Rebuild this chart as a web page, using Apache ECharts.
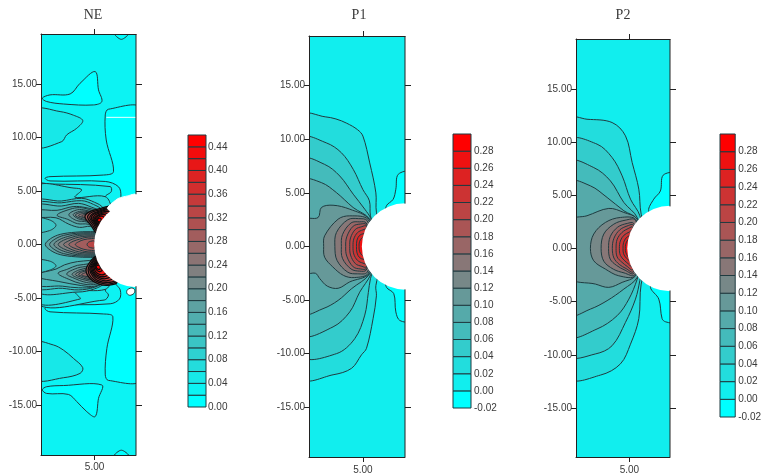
<!DOCTYPE html>
<html><head><meta charset="utf-8">
<style>html,body{margin:0;padding:0;background:#fff}#c{width:764px;height:475px}</style>
<script src="https://cdn.jsdelivr.net/npm/echarts@6/dist/echarts.min.js"></script></head>
<body><div id="c"></div>
<script>
// ---- tick labels ----
const yTicks=[-15,-10,-5,0,5,10,15];
const yTicksRight=[-15,-10,-5,5,10,15];
const xTicks=[5];
const neLegendTicks=[0,0.04,0.08,0.12,0.16,0.2,0.24,0.28,0.32,0.36,0.4,0.44];
const pLegendTicks=[-0.02,0,0.02,0.04,0.06,0.08,0.1,0.12,0.14,0.16,0.18,0.2,0.22,0.24,0.26,0.28];
const titles=['NE','P1','P2'];
// ---- hole: x centre, y centre, radius ----
const neHole=[8.96,0,4], p1Hole=[8.9,0,4], p2Hole=[8.8,0,4];
// ---- NE contour regions (band index, x/y outline) ----
const neBands=[0,0,0,0,0,2,2,2,3,4,5,6,5,5,7,8,9,10,11,12,13,7,8,9,10,11,12,13,8,9,10,11,12,13,14,16,14,15,16,17,18,19,20,21,22,14,15,16,17,18,19,20,21,22];
const neContours=[
[[6.77,19.9],[7.5,19.2],[8.27,19.9]],
[[6.77,-19.9],[7.5,-19.25],[8.27,-19.9]],
[[0.12,13.69],[0.84,14],[2.72,14.09],[3.65,15.09],[5.06,16.18],[5.37,14.47],[5.68,13.38],[4.9,13.06],[2.09,13.15],[0.53,13.38]],
[[0.12,-13.6],[0.53,-13.31],[2.09,-13.2],[5.68,-13.15],[5.37,-14.4],[5.06,-16.1],[4.28,-15.65],[3.34,-14.7],[2.56,-14.03],[0.53,-13.94]],
[[9.4,12.66],[6.3,12.66],[6,12.13],[6.09,9.78],[6.77,6.82],[5.84,6.5],[0.84,6.35],[0.37,6.2],[0.84,5.95],[6,5.9],[7.24,5.4],[7.46,4.5],[7.2,3.9],[8,2],[9.4,2]],
[[-0.5,12.6],[1.78,12.44],[3.03,12.1],[3.9,11.6],[3.34,10.88],[2.4,10.26],[1.94,9.63],[-0.5,9.16]],
[[-0.5,-9.2],[1.15,-9.4],[2.09,-9.88],[3.03,-10.66],[3.9,-11.53],[3.65,-12.06],[2.09,-12.47],[-0.5,-12.6]],
[[-0.5,5.57],[0.84,5.66],[6.46,5.42],[6.56,4.95],[6,4.45],[6.6,3.4],[7,0],[6.6,-3.4],[6,-4.26],[6.3,-4.73],[5.9,-5.2],[-0.5,-5.3]],
[[-0.5,5.26],[3.34,5.26],[3.8,5.1],[3.18,4.42],[5.99,4.48],[6.6,3.3],[7,0],[6.6,-3.3],[6,-4.2],[3.18,-4.4],[3.65,-5.1],[-0.5,-5.2]],
[[-0.5,3.95],[1.9,4.07],[3.8,4.32],[5,3.95],[5.8,3.4],[7,0],[6,-3.5],[5,-4.15],[3.46,-4.45],[-0.5,-4.2]],
[[-0.5,3.7],[1.9,3.9],[3.8,4.1],[4.9,3.75],[5.7,3.2],[7,0],[5.9,-3.4],[5,-4],[3.5,-4.25],[2,-4.1],[-0.5,-3.9]],
[[-0.5,3.5],[1.9,3.6],[3.5,3.85],[4.7,3.5],[5.6,3],[7,0],[5.8,-3.3],[5,-3.95],[3.5,-4.05],[2,-3.9],[-0.5,-3.55]],
[[-0.5,2.45],[0.8,2.3],[1.4,1.8],[0.8,1.3],[-0.5,1.2]],
[[-0.5,-1.5],[0.8,-1.55],[1.4,-2],[0.8,-2.4],[-0.5,-2.6]],
[[-0.5,3.2],[1.5,3.2],[3,3.55],[4.2,3.45],[5.6,3],[6.5,2],[5.4,1.4],[4.6,1.7],[3.6,1.6],[2.6,1.9],[1.4,2.5],[-0.5,2.6]],
[[1.5,2.75],[2.7,3.3],[3.6,3.45],[4.4,3.3],[5.5,2.85],[6.5,2],[5.3,1.5],[4.4,1.9],[3.4,1.95],[2.5,2.35]],
[[2.6,2.8],[3.4,3.25],[4.2,3.2],[5.4,2.8],[6.5,2],[5.25,1.6],[4.3,2.1],[3.3,2.25]],
[[3,2.8],[3.6,3.1],[4.2,3.1],[5.3,2.75],[6.5,2],[5.2,1.7],[4.3,2.2],[3.5,2.4]],
[[3.2,2.75],[3.7,3],[4.2,3],[5.2,2.7],[6,2],[5.2,1.8],[4.4,2.25],[3.7,2.45]],
[[3.5,2.7],[4,2.9],[5.1,2.6],[6,2],[5.1,1.85],[4.4,2.35]],
[[3.8,2.65],[4.3,2.85],[5,2.6],[6,2],[5.1,1.9],[4.5,2.4]],
[[-0.5,-3.05],[1.6,-3.45],[3.8,-3.85],[5,-3.9],[6,-3.4],[5.8,-1.3],[4.5,-1.5],[3.4,-1.6],[2.2,-1.9],[1.4,-2.3],[-0.5,-2.8]],
[[1.6,-2.7],[2.7,-3.3],[3.7,-3.65],[4.9,-3.75],[6,-3.3],[5.6,-1.4],[4.5,-1.8],[3.4,-1.95],[2.5,-2.3]],
[[2.4,-2.75],[3.2,-3.2],[4,-3.5],[4.9,-3.6],[6,-3.2],[5.5,-1.5],[4.4,-2],[3.4,-2.2]],
[[2.9,-2.8],[3.5,-3.15],[4.2,-3.35],[4.9,-3.45],[6,-3],[5.4,-1.6],[4.4,-2.15],[3.5,-2.4]],
[[3.2,-2.8],[3.7,-3.05],[4.3,-3.25],[5,-3.3],[6,-3],[5.3,-1.7],[4.4,-2.3],[3.7,-2.5]],
[[3.5,-2.8],[3.95,-3],[4.4,-3.15],[5.5,-3],[5.2,-1.8],[4.4,-2.4],[3.9,-2.55]],
[[3.8,-2.8],[4.3,-3],[5.5,-2.9],[5.2,-1.9],[4.5,-2.5]],
[[0.4,0],[0.9,0.55],[1.8,0.95],[3.2,1.15],[4.6,1.2],[5.5,1.1],[6,0],[5.5,-1.1],[4.6,-1.2],[3.2,-1.15],[1.8,-0.95],[0.9,-0.55]],
[[0.8,0],[1.3,0.5],[2.1,0.85],[3.3,1.05],[4.6,1.1],[5.5,1],[6,0],[5.5,-1],[4.6,-1.1],[3.3,-1.05],[2.1,-0.85],[1.3,-0.5]],
[[1.2,0],[1.7,0.45],[2.5,0.75],[3.4,0.95],[4.6,1],[5.5,0.9],[6,0],[5.5,-0.9],[4.6,-1],[3.4,-0.95],[2.5,-0.75],[1.7,-0.45]],
[[1.6,0],[2.1,0.4],[2.8,0.65],[3.6,0.85],[4.6,0.9],[5.5,0.8],[6,0],[5.5,-0.8],[4.6,-0.9],[3.6,-0.85],[2.8,-0.65],[2.1,-0.4]],
[[2.1,0],[2.6,0.35],[3.2,0.6],[3.9,0.75],[4.7,0.8],[5.5,0.7],[6,0],[5.5,-0.7],[4.7,-0.8],[3.9,-0.75],[3.2,-0.6],[2.6,-0.35]],
[[2.6,0],[3,0.3],[3.6,0.5],[4.1,0.65],[4.7,0.7],[5.5,0.6],[6,0],[5.5,-0.6],[4.7,-0.7],[4.1,-0.65],[3.6,-0.5],[3,-0.3]],
[[3.2,0],[3.5,0.25],[4,0.45],[4.7,0.55],[5.5,0.5],[6,0],[5.5,-0.5],[4.7,-0.55],[4,-0.45],[3.5,-0.25]],
[[4.3,0],[4.5,0.25],[5,0.3],[5,-0.3],[4.5,-0.25]],
[[4.1,2.6],[4.6,3.1],[5.5,3.35],[6.6,3.6],[7,3],[5.6,1.1],[5.1,1.15],[4.7,1.75]],
[[4.35,2.55],[4.7,3],[5.5,3.25],[6.4,3.45],[6.9,3],[5.6,1.2],[5.15,1.3],[4.8,1.85]],
[[4.55,2.5],[4.85,2.9],[5.5,3.15],[6.3,3.35],[6.8,3],[5.6,1.3],[5.2,1.45],[4.9,1.95]],
[[4.7,2.45],[4.95,2.85],[5.5,3.05],[6.2,3.25],[6.7,3],[5.6,1.4],[5.25,1.55],[5,2]],
[[4.85,2.4],[5.05,2.75],[5.5,2.95],[6.1,3.1],[6.6,2.9],[5.6,1.55],[5.3,1.7],[5.05,2.05]],
[[4.95,2.4],[5.15,2.65],[5.5,2.85],[6,2.95],[6.4,2.7],[5.6,1.7],[5.3,1.85],[5.1,2.1]],
[[5.05,2.35],[5.2,2.6],[5.5,2.75],[5.9,2.8],[6.2,2.6],[5.6,1.85],[5.3,1.95],[5.15,2.15]],
[[5.15,2.3],[5.3,2.5],[5.6,2.65],[5.9,2.5],[5.6,2],[5.35,2.05]],
[[5.25,2.3],[5.4,2.45],[5.6,2.4],[5.55,2.15],[5.35,2.15]],
[[4.2,-2.4],[4.6,-3.2],[5.4,-3.7],[6.4,-3.8],[7.1,-3.5],[5.9,-1.3],[5.2,-1.1],[4.6,-1.6]],
[[4.4,-2.4],[4.7,-3.1],[5.4,-3.55],[6.3,-3.7],[7,-3.4],[5.9,-1.4],[5.2,-1.2],[4.7,-1.7]],
[[4.55,-2.35],[4.85,-3],[5.4,-3.4],[6.2,-3.55],[6.9,-3.3],[5.9,-1.5],[5.2,-1.3],[4.75,-1.8]],
[[4.65,-2.3],[4.95,-2.9],[5.45,-3.25],[6.1,-3.4],[6.7,-3.1],[5.9,-1.6],[5.2,-1.45],[4.85,-1.85]],
[[4.75,-2.25],[5,-2.8],[5.45,-3.1],[6,-3.2],[6.5,-2.9],[5.9,-1.65],[5.25,-1.55],[4.9,-1.9]],
[[4.85,-2.2],[5.05,-2.7],[5.45,-2.95],[5.95,-3],[6.3,-2.7],[5.8,-1.7],[5.25,-1.65],[4.95,-1.95]],
[[4.95,-2.15],[5.1,-2.55],[5.45,-2.8],[5.9,-2.8],[6.1,-2.5],[5.7,-1.75],[5.25,-1.75],[5,-1.95]],
[[5.05,-2.1],[5.2,-2.4],[5.45,-2.55],[5.7,-2.4],[5.5,-1.85],[5.2,-1.85]],
[[5.15,-2.1],[5.3,-2.3],[5.5,-2.3],[5.5,-2],[5.25,-1.95]]
];
const neFirstDarkRing=36;
const neLowerBright=[[9.4,-12.59],[6.3,-12.72],[6,-12.2],[6.15,-9.72],[6.71,-6.76],[5.84,-6.5],[0.84,-6.3],[0.37,-6],[0.84,-5.7],[6.46,-5.55],[7.33,-5.1],[7.4,-4.26],[6.93,-3.48],[8,-2],[9.4,-2]];
const neBump=[[6.2,3.4],[7.2,4.3],[8.1,4.55],[8.87,4.7],[8.87,3],[7,2.8]];
const neSpot=[[8,-4.4],[8.2,-4.15],[8.6,-4.1],[8.75,-4.4],[8.5,-4.7],[8.15,-4.7]];
const neWhiteLine=[[6.1,11.9],[8.87,11.9]];
// ---- P1 contour regions ----
const p1Bands=[0,0,2,3,4,5,6,7,8,9,10,11,12,13,14];
const p1Contours=[
[[9.4,6.9],[8.27,6.73],[8.05,5.34],[7.8,4.4],[7.18,3.8],[7.2,3],[9.4,3]],
[[7.18,-3.8],[7.86,-4.4],[8.05,-6.1],[8.42,-6.9],[9.4,-6.9],[9.4,-3],[7.2,-3]],
[[-0.5,12.2],[1.5,12.1],[2.5,11.9],[3.5,11.5],[4.5,10.9],[5,10.3],[5.63,7.8],[6.2,5],[6.25,3.2],[7,0],[6.2,-3.64],[6.25,-4.6],[5.94,-6.74],[5.33,-9.5],[4.87,-10.1],[3.94,-11.37],[2.23,-11.97],[-0.5,-12.2]],
[[-0.5,10.04],[1.6,9.67],[3,8.75],[4.1,7.2],[5,5.3],[5.6,4.26],[5.7,2.86],[6.5,0],[5.7,-3],[5.5,-4.3],[5.17,-6.4],[4.24,-8.6],[2.54,-10],[-0.5,-10.1]],
[[-0.5,8.06],[1.45,7.66],[2.85,6.58],[4.1,4.88],[5.17,3.48],[5.73,2.6],[6.5,0],[5.73,-2.6],[4.7,-4.26],[3.78,-6.1],[2.23,-7.5],[-0.5,-8.13]],
[[-0.5,6.14],[1.15,5.96],[2.54,5.03],[4.09,3.64],[5.63,2.55],[6.5,0],[5.63,-2.55],[3.93,-3.95],[2.7,-5.03],[1.3,-5.8],[-0.5,-6.2]],
[[-0.5,2.46],[0.84,2.7],[1.15,3.64],[2.23,3.85],[3.78,3.48],[5.57,2.55],[6.5,0],[5.57,-2.55],[3.78,-3.3],[2.7,-3.9],[1.7,-3.7],[1,-3],[0.6,-2.5],[-0.5,-2.46]],
[[1.36,0],[1.45,1],[2.7,2.55],[3.78,2.86],[5.5,2.5],[6,0],[5.5,-2.5],[4.2,-2.9],[3.2,-2.7],[2.2,-1.9],[1.45,-1]],
[[2.4,0],[2.54,1.3],[3.6,2.5],[4.6,2.6],[5.4,2.4],[6,0],[5.4,-2.4],[4.5,-2.55],[3.6,-2.4],[2.6,-1.3]],
[[3,0],[3.1,1.1],[3.9,2.2],[4.7,2.3],[5.3,2.2],[6,0],[5.3,-2.2],[4.7,-2.3],[3.9,-2.1],[3.1,-1.1]],
[[3.4,0],[3.5,0.9],[4.1,1.9],[4.8,2.1],[5.3,2.05],[6,0],[5.3,-2.05],[4.8,-2.1],[4.1,-1.9],[3.5,-0.9]],
[[3.78,0],[3.85,0.8],[4.3,1.6],[4.9,1.85],[5.3,1.9],[6,0],[5.3,-1.9],[4.9,-1.85],[4.3,-1.6],[3.85,-0.8]],
[[4.08,0],[4.15,0.7],[4.5,1.3],[5,1.55],[5.4,1.6],[6,0],[5.4,-1.6],[5,-1.55],[4.5,-1.3],[4.15,-0.7]],
[[4.4,0],[4.45,0.6],[4.7,1.05],[5.1,1.2],[5.5,1.2],[6,0],[5.5,-1.2],[5.1,-1.2],[4.7,-1.05],[4.45,-0.6]],
[[4.64,0],[4.68,0.45],[4.9,0.8],[5.2,0.9],[6,0],[5.2,-0.9],[4.9,-0.8],[4.68,-0.45]]
];
// ---- P2 contour regions ----
const p2Bands=[0,0,2,3,4,5,6,7,8,9,10,11,12,13,14];
const p2Contours=[
[[9.3,6.98],[8.16,6.88],[7.9,5.4],[7.28,4.63],[6.8,3.54],[7.5,3],[9.3,3]],
[[6.97,-3.66],[7.75,-4.76],[8.06,-6.6],[8.4,-6.9],[9.3,-6.9],[9.3,-3],[7.5,-3]],
[[-0.5,12.16],[1.03,12.14],[3.38,11.83],[4.63,10.58],[5.26,8.07],[5.88,5.57],[6.1,3.22],[7,0],[6.1,-3.35],[5.88,-6.6],[5.1,-9],[4.16,-10.85],[2.3,-11.9],[-0.5,-12.07]],
[[-0.5,10.1],[1.97,9.8],[3.38,8.54],[4.32,6.82],[5.1,4.63],[5.98,3.07],[6.5,0],[5.98,-3],[5.57,-4.76],[4.63,-6.95],[3.38,-9.14],[1.8,-9.92],[-0.5,-10]],
[[-0.5,8.07],[1.66,7.6],[3.22,6.35],[4.48,4.32],[5.73,2.91],[6.5,0],[5.73,-2.88],[4.95,-4.76],[3.85,-6.32],[1.97,-7.57],[-0.5,-8.14]],
[[-0.5,6.2],[1.35,5.88],[2.91,4.79],[4.48,3.54],[5.73,2.75],[6.5,0],[5.73,-2.72],[4.48,-3.82],[2.91,-4.91],[1.35,-5.7],[-0.5,-6.17]],
[[-0.5,2.6],[1.03,3.07],[3.07,3.76],[4.48,3.38],[5.73,2.75],[6.5,0],[5.57,-2.57],[4.32,-3.19],[3.07,-3.66],[1.82,-3.35],[-0.5,-2.72]],
[[1.35,0],[1.66,1.35],[2.75,2.44],[4.16,2.91],[5.6,2.7],[6,0],[5.57,-2.57],[4,-2.57],[2.75,-1.94],[1.66,-1.16]],
[[2.35,0],[2.6,1.35],[3.54,2.28],[4.6,2.65],[5.57,2.66],[6,0],[5.5,-2.5],[4.5,-2.3],[3.5,-1.95],[2.6,-1.2]],
[[3.05,0],[3.2,1.1],[3.9,2],[4.8,2.35],[5.4,2.35],[6,0],[5.4,-2.35],[4.6,-2.05],[3.8,-1.6],[3.2,-1]],
[[3.4,0],[3.55,0.95],[4.1,1.75],[4.9,2.15],[5.35,2.2],[6,0],[5.35,-2.2],[4.7,-1.9],[4.05,-1.5],[3.55,-0.9]],
[[3.75,0],[3.85,0.85],[4.3,1.5],[4.95,1.9],[5.3,2],[6,0],[5.3,-2],[4.8,-1.7],[4.3,-1.3],[3.85,-0.8]],
[[4.06,0],[4.15,0.7],[4.5,1.25],[5,1.55],[5.25,1.7],[6,0],[5.25,-1.7],[4.9,-1.45],[4.5,-1.1],[4.15,-0.65]],
[[4.4,0],[4.45,0.55],[4.7,1],[5,1.2],[5.2,1.35],[6,0],[5.2,-1.35],[5,-1.15],[4.7,-0.9],[4.45,-0.5]],
[[4.62,0],[4.65,0.4],[4.85,0.8],[5.1,0.95],[6,0],[5.1,-0.95],[4.85,-0.75],[4.65,-0.35]]
];
// ---- legends ----
const neLegendLevels=[0,0.02,0.04,0.06,0.08,0.1,0.12,0.14,0.16,0.18,0.2,0.22,0.24,0.26,0.28,0.3,0.32,0.34,0.36,0.38,0.4,0.42,0.44,0.46];
const pLegendLevels=[-0.02,0,0.02,0.04,0.06,0.08,0.1,0.12,0.14,0.16,0.18,0.2,0.22,0.24,0.26,0.28,0.3];

const LINE='#1f3b40', TXT='#3a3a3a';
function ramp(i,n){const t=i/(n-1);const a=Math.round(255*t),b=Math.round(255*(1-t));return 'rgb('+a+','+b+','+b+')';}

const panels=[
 {box:{left:41,top:34,width:95,height:421},xMax:8.87,yMin:-19.7,yMax:19.7,hole:neHole,bands:neBands,cont:neContours,n:23,holeTop:4.7,holeBot:-3.9,xMargin:7},
 {box:{left:309,top:36,width:96,height:423},xMax:8.9,yMin:-19.64,yMax:19.64,hole:p1Hole,bands:p1Bands,cont:p1Contours,n:16,holeTop:4,holeBot:-4,xMargin:8},
 {box:{left:576,top:39,width:94,height:419},xMax:8.8,yMin:-19.6,yMax:19.68,hole:p2Hole,bands:p2Bands,cont:p2Contours,n:16,holeTop:3.95,holeBot:-3.95,xMargin:8}
];
const legends=[
 {box:{left:188,top:135,width:18,height:272},levels:neLegendLevels,ticks:neLegendTicks,n:23,margin:2},
 {box:{left:453,top:134,width:18,height:274},levels:pLegendLevels,ticks:pLegendTicks,n:16,margin:3},
 {box:{left:720,top:134,width:18,height:283},levels:pLegendLevels,ticks:pLegendTicks,n:16,margin:3}
];
const centers=[93,359,623];

const grid=[],xAxis=[],yAxis=[],series=[],title=[];
const axLine={show:true,onZero:false,lineStyle:{color:'#222',width:1}};
const fmt=v=>Number(v).toFixed(2);
panels.forEach((p,k)=>{
  title.push({text:titles[k],left:centers[k],top:8,padding:0,textAlign:'center',textStyle:{fontFamily:'Liberation Serif',fontSize:14,fontWeight:'normal',color:TXT}});
  grid.push(Object.assign({show:true,backgroundColor:ramp(1,p.n),borderWidth:0,containLabel:false},p.box));
  const g=grid.length-1, xb=xAxis.length, yl=yAxis.length;
  xAxis.push({gridIndex:g,type:'value',position:'bottom',min:0,max:p.xMax,z:6,axisLine:axLine,splitLine:{show:false},
    axisTick:{show:true,length:5,customValues:xTicks,lineStyle:{color:'#222'}},
    axisLabel:{show:true,customValues:xTicks,formatter:fmt,margin:p.xMargin,fontFamily:'Liberation Sans',fontSize:10,color:TXT}});
  xAxis.push({gridIndex:g,type:'value',position:'top',min:0,max:p.xMax,z:6,axisLine:axLine,splitLine:{show:false},
    axisTick:{show:true,length:5,customValues:xTicks,lineStyle:{color:'#222'}},axisLabel:{show:false}});
  yAxis.push({gridIndex:g,type:'value',position:'left',min:p.yMin,max:p.yMax,z:6,axisLine:axLine,splitLine:{show:false},
    axisTick:{show:true,length:5,customValues:yTicks,lineStyle:{color:'#222'}},
    axisLabel:{show:true,customValues:yTicks,formatter:fmt,margin:4,fontFamily:'Liberation Sans',fontSize:10,color:TXT}});
  yAxis.push({gridIndex:g,type:'value',position:'right',min:p.yMin,max:p.yMax,z:6,axisLine:{show:false,onZero:false},splitLine:{show:false},
    axisTick:{show:true,length:6,customValues:yTicksRight,lineStyle:{color:'#222'}},axisLabel:{show:false}});
  const polys=p.cont.map((pts,i)=>({pts,band:p.bands[i],dark:k===0&&i>=neFirstDarkRing}));
  if(k===0) polys.splice(5,0,{pts:neLowerBright,band:0});
  series.push({type:'custom',coordinateSystem:'cartesian2d',xAxisIndex:xb,yAxisIndex:yl,clip:true,z:2,silent:true,
    data:polys.map((_,i)=>[i]),
    renderItem:(params,api)=>{const q=polys[params.dataIndex];
      return {type:'polygon',shape:{points:q.pts.map(c=>api.coord(c)),smooth:0.35},
        style:{fill:ramp(q.band,p.n),stroke:q.dark?'#0c0c0c':LINE,lineWidth:q.dark?1.3:1}};}});
  series.push({type:'custom',coordinateSystem:'cartesian2d',xAxisIndex:xb,yAxisIndex:yl,clip:true,z:3,silent:true,
    data:[p.hole],
    renderItem:(params,api)=>{const c=api.coord([api.value(0),api.value(1)]);const r=api.size([api.value(2),0])[0];
      return {type:'circle',shape:{cx:c[0],cy:c[1],r},style:{fill:'#fff'}};}});
  if(k===0){
    const extra=[{pts:neBump,stroke:'#fff',smooth:0.2},{pts:neSpot,stroke:LINE,smooth:0.5}];
    series.push({type:'custom',coordinateSystem:'cartesian2d',xAxisIndex:xb,yAxisIndex:yl,clip:true,z:3,silent:true,
      data:extra.map((_,i)=>[i]),
      renderItem:(params,api)=>{const q=extra[params.dataIndex];
        return {type:'polygon',shape:{points:q.pts.map(c=>api.coord(c)),smooth:q.smooth},style:{fill:'#fff',stroke:q.stroke,lineWidth:1}};}});
    series.push({type:'line',xAxisIndex:xb,yAxisIndex:yl,z:4,silent:true,symbol:'none',data:neWhiteLine,lineStyle:{color:'#e8ffff',width:1}});
  }
  [[[p.xMax,p.holeTop],[p.xMax,p.yMax]],[[p.xMax,p.yMin],[p.xMax,p.holeBot]]].forEach(seg=>{
    series.push({type:'line',xAxisIndex:xb,yAxisIndex:yl,z:5,silent:true,symbol:'none',clip:false,data:seg,lineStyle:{color:'#222',width:1}});
  });
});
legends.forEach(l=>{
  grid.push(Object.assign({show:false,containLabel:false},l.box));
  const g=grid.length-1, xi=xAxis.length, yi=yAxis.length;
  xAxis.push({gridIndex:g,type:'value',min:0,max:1,show:false});
  yAxis.push({gridIndex:g,type:'value',position:'right',min:l.levels[0],max:l.levels[l.levels.length-1],axisLine:{show:false,onZero:false},splitLine:{show:false},axisTick:{show:false},
    axisLabel:{show:true,customValues:l.ticks,formatter:fmt,margin:l.margin,fontFamily:'Liberation Sans',fontSize:10,color:TXT}});
  const cells=l.levels.slice(0,-1).map((lo,i)=>[lo,l.levels[i+1],i]);
  series.push({type:'custom',coordinateSystem:'cartesian2d',xAxisIndex:xi,yAxisIndex:yi,clip:false,silent:true,z:2,
    data:cells,
    renderItem:(params,api)=>{const a=api.coord([0,api.value(1)]),b=api.coord([1,api.value(0)]);
      return {type:'rect',shape:{x:a[0],y:a[1],width:b[0]-a[0],height:b[1]-a[1]},style:{fill:ramp(api.value(2),l.n),stroke:LINE,lineWidth:1}};}});
});
const chart=echarts.init(document.getElementById('c'),null,{renderer:'canvas'});
chart.setOption({animation:false,backgroundColor:'#fff',title,grid,xAxis,yAxis,series,tooltip:{show:false}});
</script></body></html>
